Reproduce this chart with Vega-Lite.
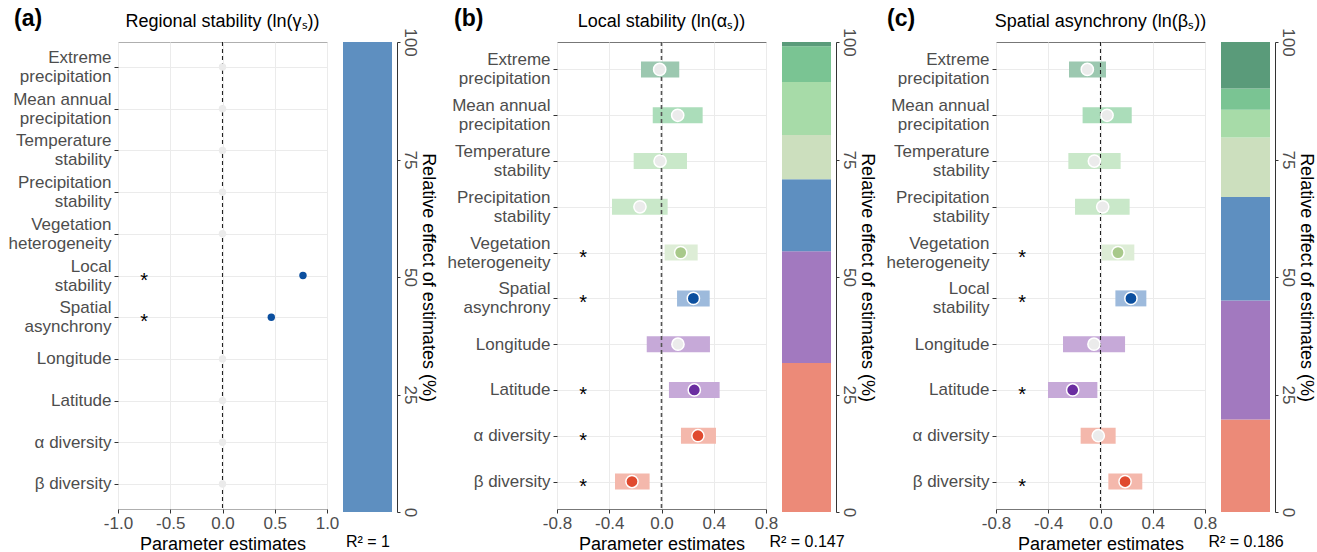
{
  "$schema": "https://vega.github.io/schema/vega-lite/v6.json",
  "background": "white",
  "padding": {"left": 7, "top": 7, "right": 5, "bottom": 2},
  "autosize": {"type": "pad"},
  "bounds": "flush",
  "spacing": 16,
  "resolve": {"scale": {"color": "independent", "fill": "independent"}},
  "datasets": {
    "a": [
      {"var": "Extreme|precipitation", "grp": "Extreme", "est": 0, "sig": false},
      {"var": "Mean annual|precipitation", "grp": "Mean", "est": 0, "sig": false},
      {"var": "Temperature|stability", "grp": "Climate", "est": 0, "sig": false},
      {"var": "Precipitation|stability", "grp": "Climate", "est": 0, "sig": false},
      {"var": "Vegetation|heterogeneity", "grp": "Veg", "est": 0, "sig": false},
      {"var": "Local|stability", "grp": "Stab", "est": 0.77, "sig": true},
      {"var": "Spatial|asynchrony", "grp": "Stab", "est": 0.467, "sig": true},
      {"var": "Longitude", "grp": "Geo", "est": 0, "sig": false},
      {"var": "Latitude", "grp": "Geo", "est": 0, "sig": false},
      {"var": "α diversity", "grp": "Div", "est": 0, "sig": false},
      {"var": "β diversity", "grp": "Div", "est": 0, "sig": false}
    ],
    "b": [
      {"var": "Extreme|precipitation", "grp": "Extreme", "est": -0.014, "lo": -0.157, "hi": 0.136, "sig": false},
      {"var": "Mean annual|precipitation", "grp": "Mean", "est": 0.124, "lo": -0.067, "hi": 0.315, "sig": false},
      {"var": "Temperature|stability", "grp": "Climate", "est": -0.011, "lo": -0.213, "hi": 0.195, "sig": false},
      {"var": "Precipitation|stability", "grp": "Climate", "est": -0.165, "lo": -0.379, "hi": 0.047, "sig": false},
      {"var": "Vegetation|heterogeneity", "grp": "Veg", "est": 0.147, "lo": 0.024, "hi": 0.277, "sig": true},
      {"var": "Spatial|asynchrony", "grp": "Stab", "est": 0.244, "lo": 0.119, "hi": 0.369, "sig": true},
      {"var": "Longitude", "grp": "Geo", "est": 0.126, "lo": -0.113, "hi": 0.371, "sig": false},
      {"var": "Latitude", "grp": "Geo", "est": 0.251, "lo": 0.057, "hi": 0.445, "sig": true},
      {"var": "α diversity", "grp": "Div", "est": 0.279, "lo": 0.149, "hi": 0.417, "sig": true},
      {"var": "β diversity", "grp": "Div", "est": -0.226, "lo": -0.356, "hi": -0.091, "sig": true}
    ],
    "c": [
      {"var": "Extreme|precipitation", "grp": "Extreme", "est": -0.101, "lo": -0.241, "hi": 0.042, "sig": false},
      {"var": "Mean annual|precipitation", "grp": "Mean", "est": 0.05, "lo": -0.137, "hi": 0.239, "sig": false},
      {"var": "Temperature|stability", "grp": "Climate", "est": -0.047, "lo": -0.246, "hi": 0.154, "sig": false},
      {"var": "Precipitation|stability", "grp": "Climate", "est": 0.017, "lo": -0.195, "hi": 0.223, "sig": false},
      {"var": "Vegetation|heterogeneity", "grp": "Veg", "est": 0.134, "lo": 0.009, "hi": 0.259, "sig": true},
      {"var": "Local|stability", "grp": "Stab", "est": 0.233, "lo": 0.114, "hi": 0.351, "sig": true},
      {"var": "Longitude", "grp": "Geo", "est": -0.05, "lo": -0.287, "hi": 0.188, "sig": false},
      {"var": "Latitude", "grp": "Geo", "est": -0.213, "lo": -0.402, "hi": -0.024, "sig": true},
      {"var": "α diversity", "grp": "Div", "est": -0.017, "lo": -0.152, "hi": 0.116, "sig": false},
      {"var": "β diversity", "grp": "Div", "est": 0.188, "lo": 0.06, "hi": 0.32, "sig": true}
    ],
    "stack": [
      {"panel": "a", "grp": "Stab", "pct": 100, "ord": 3},
      {"panel": "b", "grp": "Div", "pct": 31.7, "ord": 1},
      {"panel": "b", "grp": "Geo", "pct": 23.8, "ord": 2},
      {"panel": "b", "grp": "Stab", "pct": 15.3, "ord": 3},
      {"panel": "b", "grp": "Veg", "pct": 9.4, "ord": 4},
      {"panel": "b", "grp": "Climate", "pct": 11.3, "ord": 5},
      {"panel": "b", "grp": "Mean", "pct": 7.6, "ord": 6},
      {"panel": "b", "grp": "Extreme", "pct": 0.9, "ord": 7},
      {"panel": "c", "grp": "Div", "pct": 19.7, "ord": 1},
      {"panel": "c", "grp": "Geo", "pct": 25.3, "ord": 2},
      {"panel": "c", "grp": "Stab", "pct": 22.0, "ord": 3},
      {"panel": "c", "grp": "Veg", "pct": 12.7, "ord": 4},
      {"panel": "c", "grp": "Climate", "pct": 5.9, "ord": 5},
      {"panel": "c", "grp": "Mean", "pct": 4.5, "ord": 6},
      {"panel": "c", "grp": "Extreme", "pct": 9.9, "ord": 7}
    ]
  },
  "hconcat": [
    {
      "width": 209, "height": 467,
      "view": {"stroke": "#AFAFAF"},
      "title": {"text": "Regional stability (ln(γₛ))", "frame": "group", "anchor": "middle", "offset": 10, "fontSize": 18, "fontWeight": "normal", "color": "black"},
      "data": {"name": "a"},
      "layer": [
        {
          "data": {"values": [{"ref": 0}]},
          "mark": {"type": "rule", "strokeDash": [4, 3], "color": "#222", "strokeWidth": 1.1},
          "encoding": {"x": {"field": "ref", "type": "quantitative", "title": "Parameter estimates", "scale": {"domain": [-1, 1], "nice": false, "zero": false},
            "axis": {"values": [-1, -0.75, -0.5, -0.25, 0, 0.25, 0.5, 0.75, 1], "labelExpr": "abs(datum.value*2 - round(datum.value*2)) < 0.01 ? replace(format(datum.value, '.1f'), '\u2212', '-') : ''", "tickColor": {"condition": {"test": "abs(datum.value*2 - round(datum.value*2)) > 0.01", "value": "transparent"}, "value": "#333"}, "grid": true, "domain": false, "labelFlush": false, "labelOverlap": false}}}
        },
        {
          "mark": {"type": "circle", "size": 55, "opacity": 1},
          "encoding": {
            "x": {"field": "est", "type": "quantitative", "title": "Parameter estimates"},
            "y": {"field": "var", "type": "nominal", "title": null, "scale": {"type": "point", "padding": 0.6, "domain": ["Extreme|precipitation", "Mean annual|precipitation", "Temperature|stability", "Precipitation|stability", "Vegetation|heterogeneity", "Local|stability", "Spatial|asynchrony", "Longitude", "Latitude", "α diversity", "β diversity"]},
              "axis": {"labelExpr": "split(datum.label, '|')", "labelLineHeight": 19, "labelOffset": {"condition": {"test": "indexof(datum.value, '|') >= 0", "value": -9.5}, "value": 0}, "grid": true, "tickSize": 4, "labelPadding": 3, "domain": false}},
            "fill": {"condition": {"test": "datum.sig", "field": "grp", "type": "nominal", "scale": {"domain": ["Extreme", "Mean", "Climate", "Veg", "Stab", "Geo", "Div"], "range": ["#4E8C6C", "#5FB07E", "#8CCB8C", "#A8C98A", "#0B4F9F", "#6A2DA0", "#E04A2F"]}, "legend": null}, "value": "#EBEBEB"}
          }
        },
        {
          "mark": {"type": "text", "fontSize": 20, "dy": 5, "color": "black"},
          "encoding": {
            "x": {"datum": -0.75},
            "y": {"field": "var", "type": "nominal"},
            "text": {"condition": {"test": "datum.sig", "value": "*"}, "value": ""}
          }
        }
      ]
    },
    {
      "width": 49, "height": 470,
      "view": {"stroke": null},
      "title": {"text": "(a)", "anchor": "start", "frame": "group", "dx": -329, "offset": -3, "fontSize": 23, "fontWeight": "bold", "color": "black"},
      "data": {"name": "stack"},
      "transform": [{"filter": "datum.panel == 'a'"}],
      "mark": "bar",
      "encoding": {
        "x": {"field": "panel", "type": "nominal", "scale": {"paddingInner": 0, "paddingOuter": 0}, "axis": {"title": "R² = 1", "labels": false, "ticks": false, "domain": false, "grid": false, "titlePadding": 21, "titleFontSize": 16}},
        "y": {"field": "pct", "type": "quantitative", "stack": "zero", "scale": {"domain": [0, 100], "nice": false}, "axis": {"orient": "right", "values": [0, 25, 50, 75, 100], "labelAngle": 90, "labelAlign": "center", "labelBaseline": "bottom", "offset": 5, "tickSize": 3, "labelPadding": 0, "title": "Relative effect of estimates (%)", "titlePadding": 0, "grid": false, "domain": true}},
        "color": {"field": "grp", "type": "nominal", "scale": {"domain": ["Extreme", "Mean", "Climate", "Veg", "Stab", "Geo", "Div"], "range": ["#5A9B7A", "#7AC493", "#A7DBA8", "#CCDFBE", "#5E8FC0", "#A279BF", "#EC8A78"]}, "legend": null},
        "order": {"field": "ord", "type": "quantitative"}
      }
    },
    {"width": 133, "height": 470, "view": {"stroke": null}, "data": {"values": []}, "mark": "point"},
    {
      "width": 209, "height": 467,
      "view": {"stroke": "#777"},
      "title": {"text": "Local stability (ln(αₛ))", "frame": "group", "anchor": "middle", "offset": 10, "fontSize": 18, "fontWeight": "normal", "color": "black"},
      "data": {"name": "b"},
      "layer": [
        {
          "mark": {"type": "bar", "size": 16},
          "encoding": {
            "x": {"field": "lo", "type": "quantitative", "title": "Parameter estimates", "scale": {"domain": [-0.8, 0.8], "nice": false, "zero": false},
              "axis": {"values": [-0.8, -0.6, -0.4, -0.2, 0, 0.2, 0.4, 0.6, 0.8], "labelExpr": "abs(datum.value/0.4 - round(datum.value/0.4)) < 0.01 ? replace(format(datum.value, '.1f'), '\u2212', '-') : ''", "tickColor": {"condition": {"test": "abs(datum.value/0.4 - round(datum.value/0.4)) > 0.01", "value": "transparent"}, "value": "#333"}, "grid": true, "domain": false, "labelFlush": false, "labelOverlap": false}},
            "x2": {"field": "hi"},
            "y": {"field": "var", "type": "nominal", "title": null, "scale": {"type": "point", "padding": 0.6, "domain": ["Extreme|precipitation", "Mean annual|precipitation", "Temperature|stability", "Precipitation|stability", "Vegetation|heterogeneity", "Spatial|asynchrony", "Longitude", "Latitude", "α diversity", "β diversity"]},
              "axis": {"labelExpr": "split(datum.label, '|')", "labelLineHeight": 19, "labelOffset": {"condition": {"test": "indexof(datum.value, '|') >= 0", "value": -9.5}, "value": 0}, "grid": true, "tickSize": 4, "labelPadding": 3, "domain": false}},
            "color": {"field": "grp", "type": "nominal", "scale": {"domain": ["Extreme", "Mean", "Climate", "Veg", "Stab", "Geo", "Div"], "range": ["#9CC8B0", "#ABDDBA", "#C9E8C9", "#DDEDD6", "#9DBADC", "#C6A9D8", "#F4B8AC"]}, "legend": null}
          }
        },
        {
          "data": {"values": [{"ref": 0}]},
          "mark": {"type": "rule", "strokeDash": [4, 3], "color": "#555", "strokeWidth": 1.6},
          "encoding": {"x": {"field": "ref", "type": "quantitative", "title": "Parameter estimates"}}
        },
        {
          "mark": {"type": "circle", "size": 150, "opacity": 1, "stroke": "white", "strokeWidth": 1.5},
          "encoding": {
            "x": {"field": "est", "type": "quantitative", "title": "Parameter estimates"},
            "y": {"field": "var", "type": "nominal"},
            "fill": {"condition": {"test": "datum.sig", "field": "grp", "type": "nominal", "scale": {"domain": ["Extreme", "Mean", "Climate", "Veg", "Stab", "Geo", "Div"], "range": ["#4E8C6C", "#5FB07E", "#8CCB8C", "#A8C98A", "#0B4F9F", "#6A2DA0", "#E04A2F"]}, "legend": null}, "value": "#EBEBEB"}
          }
        },
        {
          "mark": {"type": "text", "fontSize": 20, "dy": 5, "color": "black"},
          "encoding": {
            "x": {"datum": -0.6},
            "y": {"field": "var", "type": "nominal"},
            "text": {"condition": {"test": "datum.sig", "value": "*"}, "value": ""}
          }
        }
      ]
    },
    {
      "width": 49, "height": 470,
      "view": {"stroke": null},
      "title": {"text": "(b)", "anchor": "start", "frame": "group", "dx": -328, "offset": -3, "fontSize": 23, "fontWeight": "bold", "color": "black"},
      "data": {"name": "stack"},
      "transform": [{"filter": "datum.panel == 'b'"}],
      "mark": "bar",
      "encoding": {
        "x": {"field": "panel", "type": "nominal", "scale": {"paddingInner": 0, "paddingOuter": 0}, "axis": {"title": "R² = 0.147", "labels": false, "ticks": false, "domain": false, "grid": false, "titlePadding": 21, "titleFontSize": 16}},
        "y": {"field": "pct", "type": "quantitative", "stack": "zero", "scale": {"domain": [0, 100], "nice": false}, "axis": {"orient": "right", "values": [0, 25, 50, 75, 100], "labelAngle": 90, "labelAlign": "center", "labelBaseline": "bottom", "offset": 5, "tickSize": 3, "labelPadding": 0, "title": "Relative effect of estimates (%)", "titlePadding": 0, "grid": false, "domain": true}},
        "color": {"field": "grp", "type": "nominal", "scale": {"domain": ["Extreme", "Mean", "Climate", "Veg", "Stab", "Geo", "Div"], "range": ["#5A9B7A", "#7AC493", "#A7DBA8", "#CCDFBE", "#5E8FC0", "#A279BF", "#EC8A78"]}, "legend": null},
        "order": {"field": "ord", "type": "quantitative"}
      }
    },
    {"width": 133, "height": 470, "view": {"stroke": null}, "data": {"values": []}, "mark": "point"},
    {
      "width": 209, "height": 467,
      "view": {"stroke": "#777"},
      "title": {"text": "Spatial asynchrony (ln(βₛ))", "frame": "group", "anchor": "middle", "offset": 10, "fontSize": 18, "fontWeight": "normal", "color": "black"},
      "data": {"name": "c"},
      "layer": [
        {
          "mark": {"type": "bar", "size": 16},
          "encoding": {
            "x": {"field": "lo", "type": "quantitative", "title": "Parameter estimates", "scale": {"domain": [-0.8, 0.8], "nice": false, "zero": false},
              "axis": {"values": [-0.8, -0.6, -0.4, -0.2, 0, 0.2, 0.4, 0.6, 0.8], "labelExpr": "abs(datum.value/0.4 - round(datum.value/0.4)) < 0.01 ? replace(format(datum.value, '.1f'), '\u2212', '-') : ''", "tickColor": {"condition": {"test": "abs(datum.value/0.4 - round(datum.value/0.4)) > 0.01", "value": "transparent"}, "value": "#333"}, "grid": true, "domain": false, "labelFlush": false, "labelOverlap": false}},
            "x2": {"field": "hi"},
            "y": {"field": "var", "type": "nominal", "title": null, "scale": {"type": "point", "padding": 0.6, "domain": ["Extreme|precipitation", "Mean annual|precipitation", "Temperature|stability", "Precipitation|stability", "Vegetation|heterogeneity", "Local|stability", "Longitude", "Latitude", "α diversity", "β diversity"]},
              "axis": {"labelExpr": "split(datum.label, '|')", "labelLineHeight": 19, "labelOffset": {"condition": {"test": "indexof(datum.value, '|') >= 0", "value": -9.5}, "value": 0}, "grid": true, "tickSize": 4, "labelPadding": 3, "domain": false}},
            "color": {"field": "grp", "type": "nominal", "scale": {"domain": ["Extreme", "Mean", "Climate", "Veg", "Stab", "Geo", "Div"], "range": ["#9CC8B0", "#ABDDBA", "#C9E8C9", "#DDEDD6", "#9DBADC", "#C6A9D8", "#F4B8AC"]}, "legend": null}
          }
        },
        {
          "data": {"values": [{"ref": 0}]},
          "mark": {"type": "rule", "strokeDash": [4, 3], "color": "#222", "strokeWidth": 1.1},
          "encoding": {"x": {"field": "ref", "type": "quantitative", "title": "Parameter estimates"}}
        },
        {
          "mark": {"type": "circle", "size": 150, "opacity": 1, "stroke": "white", "strokeWidth": 1.5},
          "encoding": {
            "x": {"field": "est", "type": "quantitative", "title": "Parameter estimates"},
            "y": {"field": "var", "type": "nominal"},
            "fill": {"condition": {"test": "datum.sig", "field": "grp", "type": "nominal", "scale": {"domain": ["Extreme", "Mean", "Climate", "Veg", "Stab", "Geo", "Div"], "range": ["#4E8C6C", "#5FB07E", "#8CCB8C", "#A8C98A", "#0B4F9F", "#6A2DA0", "#E04A2F"]}, "legend": null}, "value": "#EBEBEB"}
          }
        },
        {
          "mark": {"type": "text", "fontSize": 20, "dy": 5, "color": "black"},
          "encoding": {
            "x": {"datum": -0.6},
            "y": {"field": "var", "type": "nominal"},
            "text": {"condition": {"test": "datum.sig", "value": "*"}, "value": ""}
          }
        }
      ]
    },
    {
      "width": 49, "height": 470,
      "view": {"stroke": null},
      "title": {"text": "(c)", "anchor": "start", "frame": "group", "dx": -334, "offset": -3, "fontSize": 23, "fontWeight": "bold", "color": "black"},
      "data": {"name": "stack"},
      "transform": [{"filter": "datum.panel == 'c'"}],
      "mark": "bar",
      "encoding": {
        "x": {"field": "panel", "type": "nominal", "scale": {"paddingInner": 0, "paddingOuter": 0}, "axis": {"title": "R² = 0.186", "labels": false, "ticks": false, "domain": false, "grid": false, "titlePadding": 21, "titleFontSize": 16}},
        "y": {"field": "pct", "type": "quantitative", "stack": "zero", "scale": {"domain": [0, 100], "nice": false}, "axis": {"orient": "right", "values": [0, 25, 50, 75, 100], "labelAngle": 90, "labelAlign": "center", "labelBaseline": "bottom", "offset": 5, "tickSize": 3, "labelPadding": 0, "title": "Relative effect of estimates (%)", "titlePadding": 0, "grid": false, "domain": true}},
        "color": {"field": "grp", "type": "nominal", "scale": {"domain": ["Extreme", "Mean", "Climate", "Veg", "Stab", "Geo", "Div"], "range": ["#5A9B7A", "#7AC493", "#A7DBA8", "#CCDFBE", "#5E8FC0", "#A279BF", "#EC8A78"]}, "legend": null},
        "order": {"field": "ord", "type": "quantitative"}
      }
    }
  ],
  "config": {
    "font": "Liberation Sans",
    "view": {"stroke": null},
    "title": {"font": "Liberation Sans"},
    "axis": {"labelFont": "Liberation Sans", "labelFontSize": 17, "labelColor": "#4D4D4D", "titleFont": "Liberation Sans", "titleFontSize": 18, "titleColor": "black", "titleFontWeight": "normal", "tickColor": "#333", "gridColor": "#EBEBEB", "domainColor": "#333", "labelPadding": 2, "titlePadding": 4, "tickSize": 4}
  }
}
